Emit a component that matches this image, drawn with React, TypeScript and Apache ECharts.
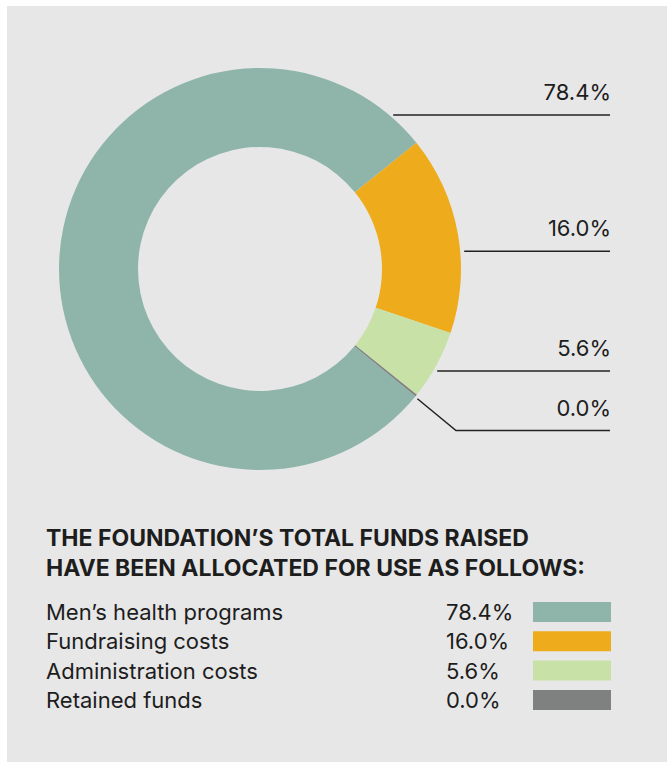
import React, { useEffect, useRef } from "react";
import * as echarts from "echarts";

const categories = ["Men’s health programs", "Fundraising costs", "Administration costs", "Retained funds"];
const values = [78.4, 16.0, 5.6, 0.0];
const colors = ["#8fb5aa", "#eeac1c", "#c8e1a6", "#7e817f"];
const titleLines = ["THE FOUNDATION’S TOTAL FUNDS RAISED", "HAVE BEEN ALLOCATED FOR USE AS FOLLOWS:"];

// layout constants (not data)
const CX = 260;
const CY = 269;
const R_OUT = 201;
const R_IN = 122;
const LINE_END_X = 610;
const labelAnchorDeg = [50, 5.1, -30.5, -39.5];
const labelLegLength = [0, 0, 0, 50];

const FONT = "Inter, 'Noto Sans', sans-serif";
const TEXT = "#1d1d1d";

export default function App() {
  const ref = useRef<HTMLDivElement>(null);
  useEffect(() => {
    if (!ref.current) return;
    const chart = echarts.init(ref.current, null, { renderer: "svg" });
    const fmt = (v: number) => v.toFixed(1) + "%";
    chart.setOption({
      animation: false,
      textStyle: { fontFamily: FONT },
      title: {
        text: titleLines.join("\n"),
        left: 46,
        top: 523,
        padding: 0,
        textStyle: { fontFamily: FONT, fontSize: 23, fontWeight: 700, color: TEXT, lineHeight: 30 },
      },
      legend: {
        orient: "vertical",
        left: 46,
        top: 601,
        padding: 0,
        align: "right",
        icon: "rect",
        itemWidth: 78,
        itemHeight: 20,
        itemGap: 7.3,
        selectedMode: false,
        data: categories,
        formatter: (name: string) => {
          const i = categories.indexOf(name);
          return `{n|${name}}{v|${fmt(values[i])}}`;
        },
        textStyle: {
          color: TEXT,
          fontFamily: FONT,
          fontSize: 22,
          lineHeight: 20,
          height: 20,
          rich: {
            n: { width: 400, align: "left", fontSize: 22, fontFamily: FONT, color: TEXT, lineHeight: 20, height: 20 },
            v: { width: 82, align: "left", fontSize: 22, fontFamily: FONT, color: TEXT, lineHeight: 20, height: 20 },
          },
        },
      },
      series: [
        {
          type: "pie",
          center: [CX, CY],
          radius: [R_IN, R_OUT],
          startAngle: 320.7,
          clockwise: true,
          minAngle: 0.6,
          avoidLabelOverlap: false,
          emphasis: { disabled: true },
          itemStyle: { borderWidth: 0 },
          label: {
            show: true,
            position: "outside",
            fontFamily: FONT,
            fontSize: 22,
            color: TEXT,
            formatter: (p: any) => fmt(p.value),
          },
          labelLine: {
            show: true,
            length: 0,
            length2: 0,
            smooth: false,
            lineStyle: { color: "#222", width: 1.5 },
          },
          labelLayout: (params: any) => {
            const i = params.dataIndex;
            const a = (labelAnchorDeg[i] * Math.PI) / 180;
            const leg = labelLegLength[i];
            let p0: number[];
            let p1: number[];
            if (leg === 0) {
              const y = CY - R_OUT * Math.sin(a);
              const x = CX + R_OUT * Math.cos(a) + 4;
              p0 = [x, y];
              p1 = [x, y];
            } else {
              p0 = [CX + (R_OUT + 3) * Math.cos(a), CY - (R_OUT + 3) * Math.sin(a)];
              p1 = [CX + (R_OUT + 3 + leg) * Math.cos(a), CY - (R_OUT + 3 + leg) * Math.sin(a)];
            }
            const p2 = [LINE_END_X, p1[1]];
            return {
              x: LINE_END_X + 1,
              y: p1[1] - 12,
              align: "right",
              verticalAlign: "bottom",
              labelLinePoints: [p0, p1, p2],
            };
          },
          data: categories.map((name, i) => ({
            name,
            value: values[i],
            itemStyle: { color: colors[i] },
          })),
        },
      ],
    });
    return () => chart.dispose();
  }, []);
  return (
    <div style={{ position: "absolute", left: 0, top: 0, width: 667, height: 762, background: "#ffffff" }}>
      <div style={{ position: "absolute", left: 7, top: 6, width: 660, height: 756, background: "#e7e7e7" }} />
      <div ref={ref} style={{ position: "absolute", left: 0, top: 0, width: 667, height: 762 }} />
    </div>
  );
}
